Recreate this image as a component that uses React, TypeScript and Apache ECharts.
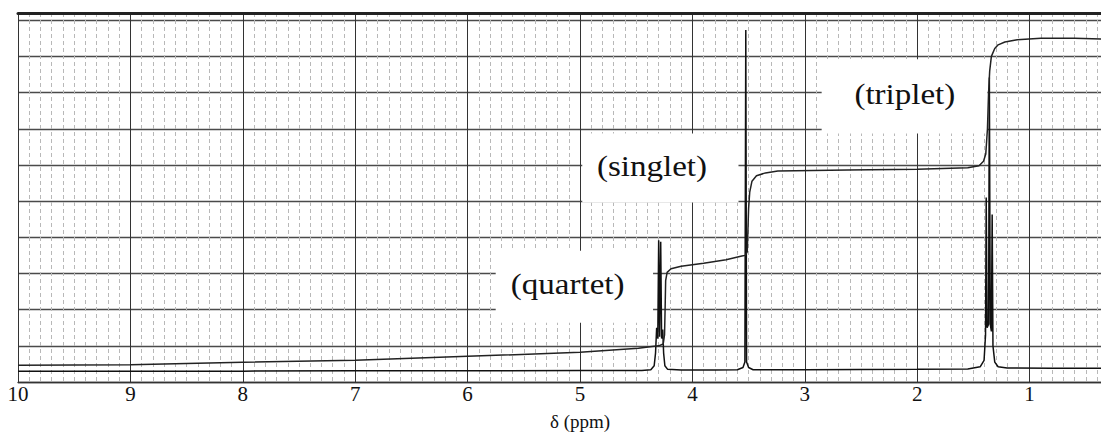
import React, { useEffect, useRef } from "react";
import * as echarts from "echarts";

// chemical shift ticks (ppm), drawn right-to-left like an NMR chart
const ppmTicks = [10, 9, 8, 7, 6, 5, 4, 3, 2, 1];

// 1H NMR trace: [ppm, signal height in chart-paper units]
const spectrum: [number, number][] = [
  [10, 0.3], [9, 0.3], [8, 0.3], [7, 0.31], [6, 0.31], [5, 0.32], [4.45, 0.32],
  [4.37, 0.34], [4.34, 0.45], [4.328, 0.8], [4.318, 1.5], [4.308, 1.2], [4.3, 3.92],
  [4.292, 1.25], [4.282, 3.88], [4.274, 1.2], [4.264, 1.45], [4.256, 0.8], [4.245, 0.45],
  [4.22, 0.35], [4.1, 0.33], [3.8, 0.33], [3.6, 0.34], [3.55, 0.4], [3.533, 0.55],
  [3.525, 9.73], [3.518, 0.55], [3.5, 0.4], [3.46, 0.34], [3.0, 0.34], [2.0, 0.35],
  [1.55, 0.36], [1.44, 0.42], [1.405, 0.6], [1.392, 1.3], [1.386, 5.1], [1.378, 1.5],
  [1.365, 1.6], [1.358, 8.42], [1.35, 1.6], [1.34, 1.4], [1.333, 4.63], [1.326, 1.0],
  [1.31, 0.55], [1.28, 0.42], [1.2, 0.39], [0.8, 0.38], [0.3, 0.38]
];

// integral trace: [ppm, height]
const integral: [number, number][] = [
  [10, 0.46], [9, 0.48], [8, 0.545], [7, 0.6], [6, 0.71], [5, 0.82], [4.48, 0.93],
  [4.36, 0.98], [4.3, 1.0], [4.26, 1.05], [4.248, 1.3], [4.243, 2.0], [4.238, 2.8],
  [4.225, 3.03], [4.19, 3.13], [4.1, 3.2], [3.9, 3.28], [3.7, 3.38], [3.56, 3.48],
  [3.53, 3.5], [3.512, 3.6], [3.506, 4.2], [3.5, 4.8], [3.49, 5.25], [3.47, 5.55],
  [3.43, 5.7], [3.35, 5.78], [3.24, 5.83], [2.62, 5.86], [2.0, 5.88], [1.55, 5.92],
  [1.45, 5.98], [1.41, 6.1], [1.39, 6.3], [1.375, 7.0], [1.365, 8.0], [1.355, 8.6],
  [1.34, 9.0], [1.31, 9.22], [1.28, 9.32], [1.22, 9.4], [1.11, 9.46], [0.9, 9.5],
  [0.6, 9.5], [0.3, 9.48]
];

// multiplet annotations
const peakLabels = ["(quartet)", "(singlet)", "(triplet)"];

export default function App() {
  const ref = useRef<HTMLDivElement>(null);

  useEffect(() => {
    document.body.style.margin = "0";
    document.body.style.overflow = "hidden";
    const chart = echarts.init(ref.current!, null, { renderer: "svg" });
    const serif = "'Liberation Serif', 'Times New Roman', Times, serif";

    chart.setOption({
      animation: false,
      backgroundColor: "#ffffff",
      grid: { left: 18, right: 0, top: 13, bottom: 49, containLabel: false },
      xAxis: [
        {
          type: "value",
          inverse: true,
          min: 0,
          max: 10,
          interval: 1,
          axisLine: { show: true, lineStyle: { color: "#333", width: 1.3 } },
          axisTick: { show: false },
          axisLabel: {
            fontFamily: serif,
            fontSize: 21,
            color: "#111",
            margin: 1,
            formatter: (v: number) => (ppmTicks.includes(v) ? String(v) : ""),
          },
          splitLine: { show: true, lineStyle: { color: "#333", width: 1 } },
          minorTick: { show: false, splitNumber: 10 },
          minorSplitLine: { show: true, lineStyle: { color: "#b8b8b8", width: 1, type: [4, 3] } },
          name: "δ (ppm)",
          nameLocation: "middle",
          nameGap: 30,
          nameTextStyle: { fontFamily: serif, fontSize: 19, color: "#111" },
        },
        {
          type: "value",
          position: "top",
          inverse: true,
          min: 0,
          max: 10,
          interval: 1,
          axisLine: { show: true, lineStyle: { color: "#222", width: 3 } },
          axisTick: { show: false },
          axisLabel: { show: false },
          splitLine: { show: false },
        },
      ],
      yAxis: {
        type: "value",
        min: 0,
        max: 10.2,
        interval: 1,
        axisLine: { show: true, lineStyle: { color: "#333", width: 1.2 } },
        axisTick: { show: false },
        axisLabel: { show: false },
        splitLine: { show: true, lineStyle: { color: "#4a4a4a", width: 1.4 } },
      },
      series: [
        {
          type: "line",
          data: spectrum,
          xAxisIndex: 0,
          showSymbol: false,
          silent: true,
          lineStyle: { color: "#111", width: 1.5 },
          z: 3,
        },
        {
          type: "line",
          data: integral,
          xAxisIndex: 0,
          showSymbol: false,
          silent: true,
          lineStyle: { color: "#222", width: 1.5 },
          z: 3,
        },
      ],
    });

    const toPx = (p: [number, number]) =>
      chart.convertToPixel({ seriesIndex: 0 }, p) as number[];

    // annotation boxes (ppm range, height range) and text anchors
    const boxes: { a: [number, number]; b: [number, number]; c: [number, number] }[] = [
      { a: [5.75, 3.63], b: [4.35, 1.64], c: [5.11, 2.7] },
      { a: [4.98, 6.87], b: [3.59, 4.96], c: [4.36, 5.97] },
      { a: [2.85, 8.92], b: [1.375, 6.87], c: [2.11, 7.96] },
    ];
    const graphic: any[] = [];
    boxes.forEach((bx, i) => {
      const p1 = toPx(bx.a);
      const p2 = toPx(bx.b);
      const pc = toPx(bx.c);
      graphic.push({
        type: "rect",
        z: 1,
        shape: { x: p1[0], y: p1[1], width: p2[0] - p1[0], height: p2[1] - p1[1] },
        style: { fill: "#ffffff" },
        silent: true,
      });
      graphic.push({
        type: "text",
        z: 2,
        x: pc[0],
        y: pc[1],
        scaleX: 1.14,
        style: {
          text: peakLabels[i],
          fontFamily: serif,
          fontSize: 29,
          fill: "#111",
          align: "center",
          verticalAlign: "middle",
        },
        silent: true,
      });
    });
    chart.setOption({ graphic });

    return () => chart.dispose();
  }, []);

  return (
    <div style={{ width: 1101, height: 436, overflow: "hidden", background: "#fff" }}>
      <div ref={ref} style={{ width: 1145, height: 436 }} />
    </div>
  );
}
